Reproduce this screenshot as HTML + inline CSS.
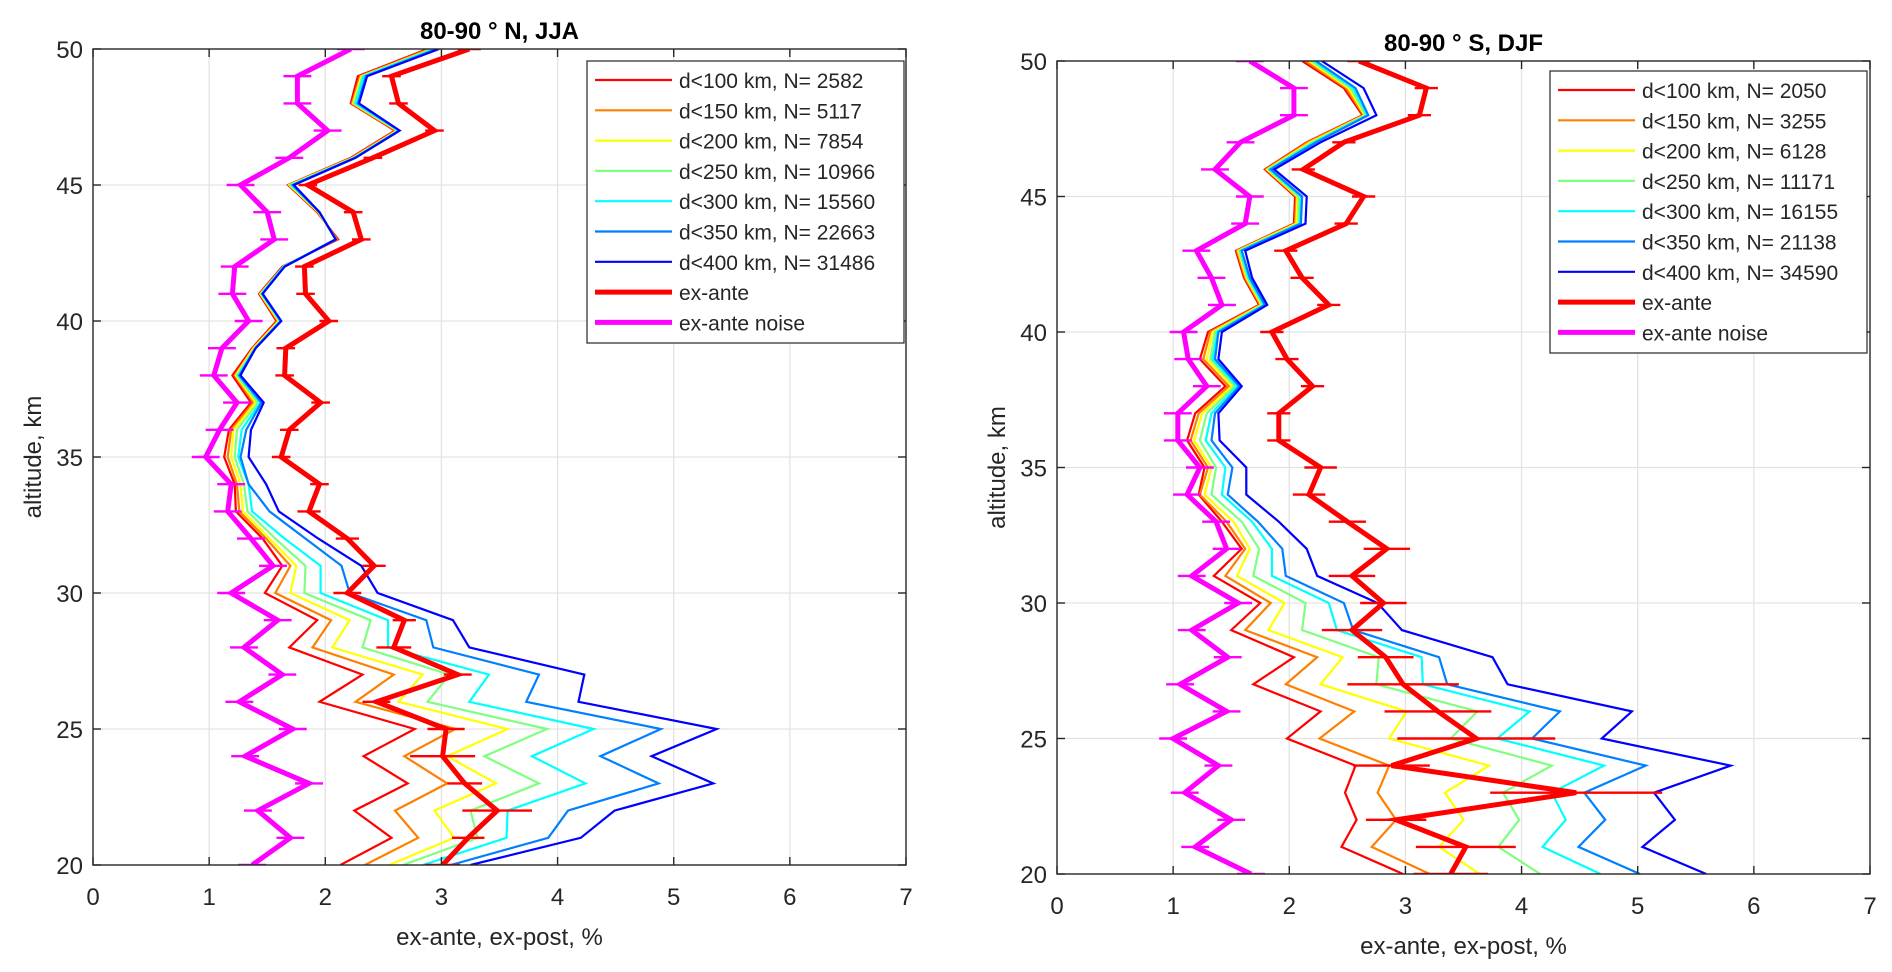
<!DOCTYPE html>
<html><head><meta charset="utf-8"><style>
html,body{margin:0;padding:0;background:#fff;}
svg{display:block;font-family:"Liberation Sans",Arial,sans-serif;}
</style></head><body>
<svg id="chart" width="1892" height="972" viewBox="0 0 1892 972"></svg>
<script>
const alts = [20,21,22,23,24,25,26,27,28,29,30,31,32,33,34,35,36,37,38,39,40,41,42,43,44,45,46,47,48,49,50];
const xTicks = [0,1,2,3,4,5,6,7];
const yTicks = [20,25,30,35,40,45,50];
const seriesColors = ['#ff0000','#ff7f00','#ffff00','#7fff7f','#00ffff','#007fff','#0000ff'];

// ---- Left panel: 80-90 N, JJA ----
const titleN = '80-90 ° N, JJA';
const labelsN = ['d<100 km, N= 2582','d<150 km, N= 5117','d<200 km, N= 7854','d<250 km, N= 10966','d<300 km, N= 15560','d<350 km, N= 22663','d<400 km, N= 31486'];
const n100 = [2.13,2.57,2.25,2.71,2.33,2.77,1.95,2.32,1.69,1.93,1.48,1.63,1.46,1.23,1.22,1.13,1.17,1.36,1.20,1.37,1.58,1.43,1.63,2.11,1.93,1.68,2.22,2.60,2.22,2.28,2.88];
const n150 = [2.34,2.80,2.60,3.05,2.68,3.12,2.26,2.59,1.89,2.05,1.57,1.70,1.49,1.26,1.24,1.16,1.19,1.38,1.22,1.38,1.59,1.44,1.64,2.10,1.94,1.69,2.23,2.61,2.23,2.30,2.90];
const n200 = [2.55,3.11,2.94,3.47,3.05,3.57,2.63,2.84,2.06,2.21,1.70,1.75,1.52,1.29,1.27,1.19,1.21,1.40,1.23,1.38,1.60,1.44,1.64,2.09,1.94,1.69,2.24,2.62,2.24,2.31,2.92];
const n250 = [2.67,3.31,3.25,3.84,3.37,3.91,2.88,3.07,2.32,2.39,1.82,1.83,1.57,1.33,1.30,1.22,1.24,1.42,1.24,1.39,1.61,1.45,1.64,2.09,1.95,1.70,2.25,2.63,2.25,2.32,2.93];
const n300 = [2.84,3.56,3.57,4.24,3.78,4.31,3.24,3.41,2.54,2.54,1.96,1.96,1.65,1.37,1.34,1.25,1.28,1.44,1.25,1.40,1.61,1.45,1.64,2.09,1.95,1.71,2.25,2.63,2.26,2.33,2.94];
const n350 = [3.08,3.92,4.09,4.87,4.37,4.89,3.73,3.84,2.93,2.87,2.21,2.14,1.83,1.52,1.34,1.27,1.32,1.45,1.26,1.40,1.62,1.46,1.65,2.09,1.95,1.72,2.26,2.64,2.28,2.35,2.96];
const n400 = [3.25,4.20,4.49,5.34,4.81,5.37,4.18,4.23,3.24,3.10,2.45,2.31,1.94,1.60,1.49,1.34,1.36,1.47,1.27,1.40,1.62,1.46,1.65,2.09,1.95,1.73,2.26,2.64,2.29,2.36,2.98];
const nAnte = [3.01,3.23,3.48,3.20,3.01,3.04,2.44,3.14,2.59,2.68,2.19,2.42,2.19,1.86,1.95,1.62,1.69,1.96,1.65,1.66,2.03,1.83,1.82,2.31,2.24,1.85,2.41,2.94,2.63,2.57,3.24];
const nAnteErr = [0.15,0.14,0.30,0.15,0.28,0.16,0.12,0.12,0.15,0.10,0.12,0.10,0.10,0.10,0.08,0.08,0.08,0.08,0.08,0.08,0.08,0.08,0.08,0.08,0.08,0.08,0.08,0.08,0.08,0.08,0.10];
const nNoise = [1.37,1.70,1.42,1.86,1.31,1.72,1.26,1.63,1.30,1.59,1.19,1.55,1.36,1.16,1.19,0.97,1.09,1.24,1.04,1.11,1.34,1.20,1.22,1.56,1.50,1.27,1.69,2.02,1.76,1.76,2.22];
const nNoiseErr = [0.12,0.12,0.12,0.12,0.12,0.12,0.12,0.12,0.12,0.12,0.12,0.12,0.12,0.12,0.12,0.12,0.12,0.12,0.12,0.12,0.12,0.12,0.12,0.12,0.12,0.12,0.12,0.12,0.12,0.12,0.12];

// ---- Right panel: 80-90 S, DJF ----
const titleS = '80-90 ° S, DJF';
const labelsS = ['d<100 km, N= 2050','d<150 km, N= 3255','d<200 km, N= 6128','d<250 km, N= 11171','d<300 km, N= 16155','d<350 km, N= 21138','d<400 km, N= 34590'];
const s100 = [2.98,2.45,2.58,2.48,2.57,1.98,2.27,1.69,2.04,1.50,1.75,1.35,1.59,1.42,1.22,1.27,1.12,1.19,1.45,1.23,1.30,1.74,1.61,1.54,2.04,2.05,1.79,2.15,2.63,2.47,2.11];
const s150 = [3.21,2.71,2.92,2.76,2.86,2.26,2.56,1.97,2.24,1.62,1.84,1.45,1.62,1.46,1.23,1.30,1.15,1.22,1.48,1.26,1.32,1.75,1.62,1.55,2.05,2.06,1.80,2.16,2.64,2.49,2.14];
const s200 = [3.64,3.29,3.50,3.34,3.72,2.86,3.01,2.27,2.46,1.82,1.96,1.55,1.66,1.52,1.27,1.33,1.18,1.25,1.51,1.29,1.34,1.76,1.63,1.56,2.06,2.07,1.81,2.18,2.65,2.51,2.17];
const s250 = [4.16,3.80,3.98,3.84,4.26,3.39,3.62,2.75,2.77,2.11,2.14,1.69,1.74,1.59,1.33,1.37,1.23,1.29,1.53,1.32,1.36,1.77,1.64,1.57,2.08,2.08,1.82,2.20,2.66,2.53,2.19];
const s300 = [4.68,4.18,4.38,4.26,4.71,3.79,4.07,3.15,3.14,2.41,2.34,1.85,1.85,1.68,1.42,1.45,1.28,1.33,1.55,1.34,1.38,1.78,1.65,1.58,2.09,2.10,1.83,2.21,2.67,2.55,2.21];
const s350 = [5.02,4.49,4.72,4.54,5.07,4.09,4.33,3.36,3.29,2.55,2.47,1.97,1.94,1.73,1.47,1.51,1.33,1.36,1.57,1.36,1.39,1.79,1.66,1.59,2.10,2.11,1.84,2.23,2.68,2.57,2.23];
const s400 = [5.59,5.04,5.32,5.14,5.80,4.69,4.95,3.88,3.75,2.97,2.76,2.24,2.15,1.91,1.63,1.63,1.40,1.39,1.59,1.39,1.42,1.81,1.68,1.62,2.14,2.15,1.87,2.27,2.75,2.64,2.28];
const sAnte = [3.39,3.52,2.92,4.47,2.88,3.61,3.28,2.98,2.83,2.54,2.81,2.54,2.84,2.50,2.17,2.27,1.91,1.91,2.20,1.98,1.85,2.34,2.11,1.97,2.49,2.64,2.12,2.47,3.12,3.18,2.60];
const sAnteErr = [0.32,0.43,0.26,0.74,0.33,0.68,0.46,0.48,0.24,0.26,0.20,0.20,0.20,0.16,0.14,0.14,0.10,0.10,0.10,0.10,0.10,0.10,0.10,0.10,0.10,0.10,0.10,0.10,0.10,0.10,0.10];
const sNoise = [1.67,1.19,1.50,1.10,1.39,1.00,1.46,1.06,1.47,1.16,1.56,1.16,1.46,1.37,1.12,1.23,1.04,1.04,1.29,1.13,1.09,1.42,1.33,1.20,1.62,1.66,1.36,1.58,2.04,2.04,1.66];
const sNoiseErr = [0.12,0.12,0.12,0.12,0.12,0.12,0.12,0.12,0.12,0.12,0.12,0.12,0.12,0.12,0.12,0.12,0.12,0.12,0.12,0.12,0.12,0.12,0.12,0.12,0.12,0.12,0.12,0.12,0.12,0.12,0.12];

const NS = 'http://www.w3.org/2000/svg';
const svg = document.getElementById('chart');
function mk(tag, parent, attrs){
  const e = document.createElementNS(NS, tag);
  for (const k in attrs) e.setAttribute(k, attrs[k]);
  parent.appendChild(e);
  return e;
}

function drawPanel(p){
  const g = mk('g', svg, {});
  
  
  const xs = v => p.x0 + (v - 0) / 7 * (p.x1 - p.x0);
  const ys = a => p.y1 - (a - 20) / 30 * (p.y1 - p.y0);

  // grid
  const grid = mk('g', g, {stroke:'#e3e3e3','stroke-width':1.3});
  
  
  xTicks.forEach(t => { if (t>0 && t<7) mk('line', grid, {x1:xs(t),x2:xs(t),y1:p.y0,y2:p.y1}); });
  yTicks.forEach(t => { if (t>20 && t<50) mk('line', grid, {x1:p.x0,x2:p.x1,y1:ys(t),y2:ys(t)}); });

  const clip = 'clip-' + p.name;
  const cp = mk('clipPath', g, {id:clip});
  mk('rect', cp, {x:p.x0, y:p.y0, width:p.x1-p.x0, height:p.y1-p.y0});
  const plot = mk('g', g, {'clip-path':'url(#'+clip+')'});

  function line(vals, color, w, nm){
    const pts = vals.map((v,i) => xs(v).toFixed(1)+','+ys(alts[i]).toFixed(1)).join(' ');
    const pl = mk('polyline', plot, {points:pts, fill:'none', stroke:color, 'stroke-width':w, 'stroke-linejoin':'miter'});
    
    
  }
  function errs(vals, errv, color, w, nm){
    const eg = mk('g', plot, {stroke:color, 'stroke-width':w});
    
    
    vals.forEach((v,i) => {
      const y = ys(alts[i]);
      mk('line', eg, {x1:xs(v-errv[i]), x2:xs(v+errv[i]), y1:y, y2:y});
    });
  }
  p.series.forEach((s,i) => line(s, seriesColors[i], 2.2, 'series-d' + (100+50*i)));
  errs(p.noise, p.noiseErr, '#ff00ff', 2.4, 'noise-errorbars');
  line(p.noise, '#ff00ff', 5, 'ex-ante-noise-line');
  errs(p.ante, p.anteErr, '#ff0000', 2.4, 'ex-ante-errorbars');
  line(p.ante, '#ff0000', 5, 'ex-ante-line');

  // axes box
  const box = mk('rect', g, {x:p.x0, y:p.y0, width:p.x1-p.x0, height:p.y1-p.y0, fill:'none', stroke:'#262626', 'stroke-width':1.4});
  
  
  const tk = mk('g', g, {stroke:'#262626','stroke-width':1.4});
  xTicks.forEach(t => {
    mk('line', tk, {x1:xs(t),x2:xs(t),y1:p.y1,y2:p.y1-8});
    mk('line', tk, {x1:xs(t),x2:xs(t),y1:p.y0,y2:p.y0+8});
  });
  yTicks.forEach(t => {
    mk('line', tk, {x1:p.x0,x2:p.x0+8,y1:ys(t),y2:ys(t)});
    mk('line', tk, {x1:p.x1,x2:p.x1-8,y1:ys(t),y2:ys(t)});
  });
  xTicks.forEach(t => {
    const tx = mk('text', g, {x:xs(t), y:p.y1+40, 'text-anchor':'middle', 'font-size':24, fill:'#262626'});
    tx.textContent = t;
    
    
  });
  yTicks.forEach(t => {
    const tx = mk('text', g, {x:p.x0-10, y:ys(t)+9, 'text-anchor':'end', 'font-size':24, fill:'#262626'});
    tx.textContent = t;
    
    
  });
  const xl = mk('text', g, {x:(p.x0+p.x1)/2, y:p.y1+80, 'text-anchor':'middle', 'font-size':24, fill:'#262626'});
  xl.textContent = 'ex-ante, ex-post, %';
  
  
  const ylx = p.x0 - 52, yly = (p.y0+p.y1)/2;
  const yl = mk('text', g, {x:ylx, y:yly, 'text-anchor':'middle', 'font-size':24, fill:'#262626', transform:'rotate(-90 '+ylx+' '+yly+')'});
  yl.textContent = 'altitude, km';
  
  
  const ti = mk('text', g, {x:(p.x0+p.x1)/2, y:p.y0-10, 'text-anchor':'middle', 'font-size':24, 'font-weight':'bold', fill:'#000'});
  ti.textContent = p.title;
  
  

  // legend
  const lg = mk('g', g, {});
  
  
  mk('rect', lg, {x:p.lx, y:p.ly, width:317, height:282, fill:'#fff', stroke:'#262626', 'stroke-width':1.2});
  const names = p.labels.concat(['ex-ante','ex-ante noise']);
  const cols = seriesColors.concat(['#ff0000','#ff00ff']);
  names.forEach((n,i) => {
    const y = p.ly + 19 + i*30.3;
    const e = mk('g', lg, {});
    
    
    mk('line', e, {x1:p.lx+8, x2:p.lx+85, y1:y, y2:y, stroke:cols[i], 'stroke-width': i>=7 ? 5 : 2.2});
    const t = mk('text', e, {x:p.lx+92, y:y+8, 'font-size':21, fill:'#262626'});
    t.textContent = n;
  });
}

drawPanel({name:'panel-north', x0:93, x1:906, y0:49, y1:865, lx:587, ly:61, title:titleN, labels:labelsN,
  series:[n100,n150,n200,n250,n300,n350,n400], ante:nAnte, anteErr:nAnteErr, noise:nNoise, noiseErr:nNoiseErr});
drawPanel({name:'panel-south', x0:1057, x1:1870, y0:61, y1:874, lx:1550, ly:71, title:titleS, labels:labelsS,
  series:[s100,s150,s200,s250,s300,s350,s400], ante:sAnte, anteErr:sAnteErr, noise:sNoise, noiseErr:sNoiseErr});
</script>
</body></html>
